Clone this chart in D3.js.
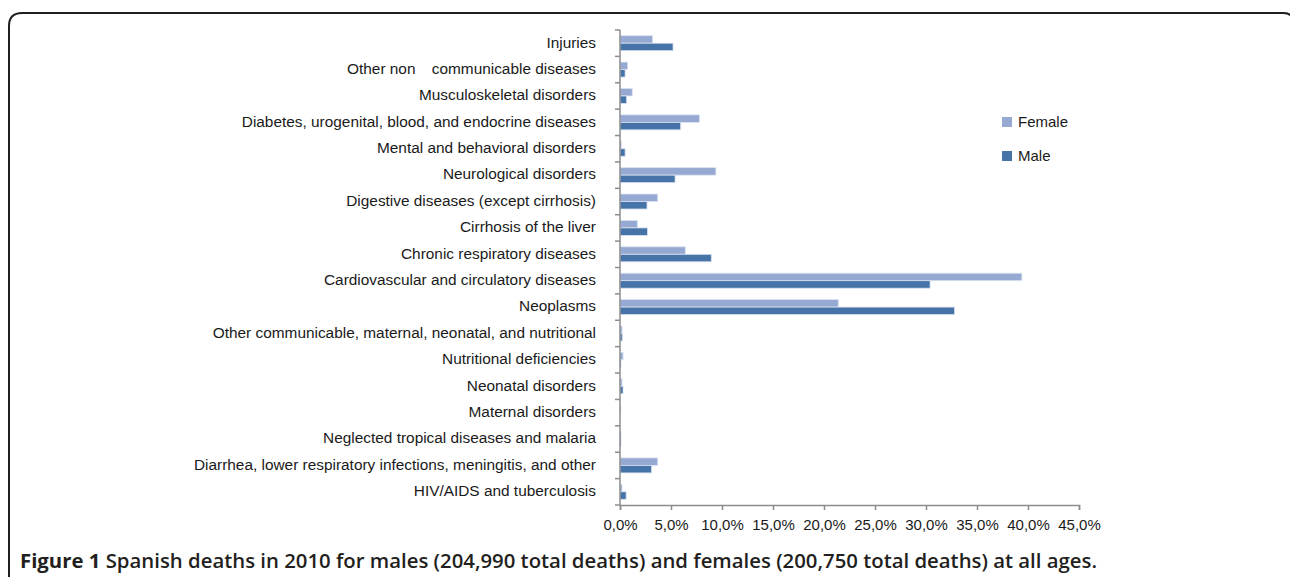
<!DOCTYPE html>
<html>
<head>
<meta charset="utf-8">
<script src="https://cdn.jsdelivr.net/npm/d3@7"></script>
<style>
  html, body { margin: 0; padding: 0; background: #fff; }
  svg { display: block; }
</style>
</head>
<body>
<svg id="chart" width="1290" height="577"></svg>
<script>
const categories = [
  "Injuries",
  "Other non\u2002\u00a0\u00a0communicable diseases",
  "Musculoskeletal disorders",
  "Diabetes, urogenital, blood, and endocrine diseases",
  "Mental and behavioral disorders",
  "Neurological disorders",
  "Digestive diseases (except cirrhosis)",
  "Cirrhosis of the liver",
  "Chronic respiratory diseases",
  "Cardiovascular and circulatory diseases",
  "Neoplasms",
  "Other communicable, maternal, neonatal, and nutritional",
  "Nutritional deficiencies",
  "Neonatal disorders",
  "Maternal disorders",
  "Neglected tropical diseases and malaria",
  "Diarrhea, lower respiratory infections, meningitis, and other",
  "HIV/AIDS and tuberculosis"
];
const femaleValues = [3.2, 0.75, 1.2, 7.8, 0.13, 9.4, 3.7, 1.7, 6.4, 39.4, 21.4, 0.2, 0.3, 0.2, 0.08, 0.1, 3.7, 0.2];
const maleValues   = [5.2, 0.5, 0.65, 5.95, 0.5, 5.4, 2.65, 2.7, 8.95, 30.4, 32.8, 0.22, 0.1, 0.3, 0.0, 0.1, 3.1, 0.6];
const seriesNames = ["Female", "Male"];
const seriesColors = ["#95a9d2", "#4673a8"];
const xTicks = [0, 5, 10, 15, 20, 25, 30, 35, 40, 45];
const caption = "Figure 1 Spanish deaths in 2010 for males (204,990 total deaths) and females (200,750 total deaths) at all ages.";

const svg = d3.select("#chart");
const FONT = "Liberation Sans, Arial, sans-serif";

// frame
svg.append("path")
  .attr("d", "M9,577 L9,26 Q9,13 22,13 L1283,13 Q1295,13 1295,26 L1295,577")
  .attr("fill", "none").attr("stroke", "#231f20").attr("stroke-width", 2);

const x = d3.scaleLinear().domain([0, 45]).range([620, 1079]);
const y = d3.scaleBand().domain(categories).range([30, 505]).padding(0);
const sub = d3.scaleBand().domain(seriesNames).range([0, y.bandwidth()]).paddingInner(0).paddingOuter(0.76);

const data = categories.map((c, i) => ({ c, vals: [femaleValues[i], maleValues[i]] }));

const groups = svg.append("g").selectAll("g").data(data).join("g")
  .attr("transform", d => `translate(0,${y(d.c)})`);

groups.selectAll("rect").data(d => d.vals.map((v, j) => ({ v, s: seriesNames[j], j })))
  .join("rect")
  .attr("x", x(0))
  .attr("y", d => sub(d.s))
  .attr("width", d => Math.max(0, x(d.v) - x(0)))
  .attr("height", sub.bandwidth())
  .attr("fill", d => seriesColors[d.j])
  .attr("stroke", "#dbe3f0")
  .attr("stroke-width", 0.8);

// y axis
const yAxis = svg.append("g").attr("transform", `translate(${x(0)},0)`);
yAxis.append("line").attr("x1", 0).attr("x2", 0).attr("y1", 30).attr("y2", 505)
  .attr("stroke", "#8c8c8c").attr("stroke-width", 1.5);
const yTickPos = d3.range(categories.length + 1).map(i => 30 + i * y.step());
yAxis.selectAll("line.t").data(yTickPos).join("line").attr("class", "t")
  .attr("x1", -5).attr("x2", 0).attr("y1", d => d).attr("y2", d => d)
  .attr("stroke", "#8c8c8c").attr("stroke-width", 1.5);

svg.append("g").selectAll("text").data(categories).join("text")
  .attr("x", 596)
  .attr("y", d => y(d) + y.bandwidth() / 2)
  .attr("dy", "0.28em")
  .attr("text-anchor", "end")
  .attr("font-family", FONT)
  .attr("font-size", 15.4)
  .attr("fill", "#1a1a1a")
  .text(d => d);

// x axis
const xAxisG = svg.append("g").attr("transform", "translate(0,505)")
  .call(d3.axisBottom(x).tickValues(xTicks).tickSize(5)
    .tickFormat(d => d3.format(".1f")(d).replace(".", ",") + "%"));
xAxisG.select(".domain").attr("stroke", "#8c8c8c").attr("stroke-width", 1.5);
xAxisG.selectAll(".tick line").attr("stroke", "#8c8c8c").attr("stroke-width", 1.5);
xAxisG.selectAll(".tick text")
  .attr("font-family", FONT)
  .attr("font-size", 15).attr("fill", "#1a1a1a").attr("dy", "1.1em");

// legend
const legend = svg.append("g").selectAll("g").data(seriesNames).join("g")
  .attr("transform", (d, i) => `translate(1002,${117 + i * 34})`);
legend.append("rect").attr("width", 10).attr("height", 10)
  .attr("fill", (d, i) => seriesColors[i]);
legend.append("text").attr("x", 16).attr("y", 5).attr("dy", "0.36em")
  .attr("font-family", FONT)
  .attr("font-size", 15).attr("fill", "#1a1a1a")
  .text(d => d);

// caption
const cap = svg.append("text").attr("x", 20).attr("y", 568)
  .attr("font-family", "Open Sans, sans-serif").attr("font-weight", 700)
  .attr("font-size", 19).attr("fill", "#231f20")
  .attr("textLength", 1077).attr("lengthAdjust", "spacingAndGlyphs");
cap.append("tspan").text("Figure 1 ");
cap.append("tspan").attr("font-weight", 600).text(caption.replace("Figure 1 ", ""));
</script>
</body>
</html>
